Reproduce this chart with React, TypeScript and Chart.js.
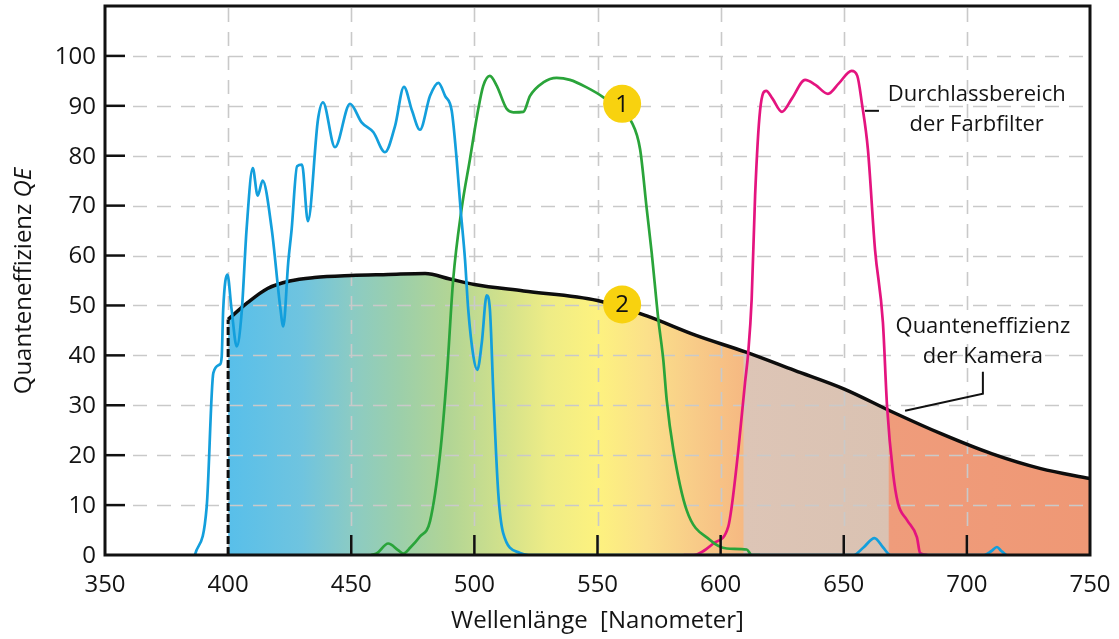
import { useEffect, useRef } from 'react';
import { Chart, registerables } from 'chart.js';

Chart.register(...registerables);

const FONT = '"Open Sans", "DejaVu Sans", sans-serif';
const TEXT = '#141414';

// Camera quantum efficiency (black curve, filled)
const qeX = [400, 408, 416, 425, 435, 450, 465, 480, 490, 500, 520, 550, 570, 590, 610, 630, 650, 670, 690, 710, 730, 750];
const qeY = [47.2, 50.6, 53.4, 54.9, 55.6, 56, 56.2, 56.4, 55.3, 54.2, 52.9, 51, 47.9, 44, 40.7, 37, 33.3, 28.6, 24.2, 20.3, 17.3, 15.3];

// Blue filter
const blueX = [386.5, 391.3, 394, 396.7, 397.4, 398, 399.7, 401.4, 403.5, 405.5, 407.5, 410, 412, 414, 417.7, 421.1, 422.4, 424.4, 425.8, 428, 430, 432.4, 436.5, 438.5, 443.4, 449.5, 454.2, 459, 463.7, 467.8, 471.4, 474.7, 477.9, 482, 485.4, 488.1, 490.8, 492.8, 494.4, 496.2, 497.5, 499.6, 501.2, 503, 505, 506.3, 507.7, 509.7, 511.7, 518.5, 522, 654, 658, 662.5, 666, 669, 707, 710, 712.2, 714, 716];
const blueY = [0, 9.7, 36.5, 38.2, 39.8, 49.2, 56.2, 49.2, 41.8, 48.6, 65.3, 77.5, 72, 75, 65.3, 49.9, 45.8, 58.6, 65.3, 77.9, 78.2, 66.9, 87.3, 90.7, 81.7, 90.4, 86.7, 84.7, 80.7, 86, 93.8, 89, 85.2, 92, 94.6, 92, 89, 79.3, 69.3, 59.2, 49.2, 39.8, 37.1, 42.5, 52, 49.2, 32.5, 12.4, 4.4, 0.4, 0, 0, 1.5, 3.4, 1.5, 0, 0, 0.8, 1.6, 0.8, 0];

// Green filter
const greenX = [458, 460.3, 465, 469, 471.1, 474, 477.9, 482, 486.1, 488.8, 491.4, 494.8, 498.2, 501.6, 503.6, 506.3, 509.1, 513.1, 515.8, 519.9, 522.6, 528, 533.4, 538.8, 545.6, 552.4, 563.9, 567.3, 570, 572, 574.7, 576.7, 578.1, 580.8, 586.2, 595.7, 602.5, 610.6, 612.6, 616];
const greenY = [0, 0.3, 2.3, 1.0, 0.3, 1.5, 3.7, 6.8, 20.4, 35.8, 55.2, 69.3, 79.3, 89.4, 94, 96, 94, 89.4, 88.7, 88.8, 92, 94.7, 95.6, 95.2, 93.7, 91.7, 86.7, 81.3, 69.3, 60.6, 47.2, 39.2, 31.1, 21.1, 9.0, 3.0, 1.3, 1.1, 0, 0];

// Magenta filter
const magentaX = [585, 588.9, 597, 603.1, 604.5, 607.2, 609.9, 611.2, 612.6, 614, 616, 618.5, 621, 624.9, 629, 634.3, 638.5, 643.6, 648, 653.2, 655.5, 657.4, 659.8, 662.7, 665.9, 667.6, 670, 672, 675.7, 679.7, 681, 684];
const magentaY = [0, 0, 2.3, 5.7, 9.7, 21.1, 34.5, 40.5, 51.2, 72, 89, 93, 91.5, 88.8, 91.5, 95.2, 94.2, 92.4, 94.5, 97, 96, 90.4, 81.3, 61.2, 46.6, 29.7, 16.5, 10.4, 7, 3.6, 0.4, 0];

// Numbered markers
const markerX = [560, 560];
const markerY = [90.4, 50.2];
const markerLabels = ['1', '2'];

// Fill colour stops along wavelength
const fillStopNm = [400, 430, 450, 470, 490, 510, 530, 550, 570, 590, 609, 609.6, 668, 668.6, 750];
const fillStopColor = ['#58bfea', '#6fc4df', '#8bcbc4', '#9ccfaa', '#b2d595', '#cfe08c', '#eeec86', '#fdf27f', '#fbe08a', '#f8cb88', '#f6b982', '#ddc5b6', '#dac2b2', '#ef9c7b', '#ef9875'];

const xTickValues = [350, 400, 450, 500, 550, 600, 650, 700, 750];
const yTickValues = [0, 10, 20, 30, 40, 50, 60, 70, 80, 90, 100];
const gridXValues = [400, 450, 500, 550, 600, 650, 700];
const gridYValues = [10, 20, 30, 40, 50, 60, 70, 80, 90, 100];
const innerTickX = [450, 500, 550, 600, 650, 700];
const innerTickY = [10, 20, 30, 40, 50, 60, 70, 80, 90, 100];

const xTitle = 'Wellenlänge  [Nanometer]';
const yTitleMain = 'Quanteneffizienz ';
const yTitleItalic = 'QE';

const filterNote = ['Durchlassbereich', 'der Farbfilter'];
const filterNotePos = { x: 704, y: [92.2, 86.3] };
const filterLeader = { x: [658.6, 664.3], y: [89, 89] };
const qeNote = ['Quanteneffizienz', 'der Kamera'];
const qeNotePos = { x: 706.5, y: [45.8, 39.8] };
const qeLeader = { x: [674.9, 706.5, 706.5], y: [28.9, 32.3, 36.7] };

const zip = (xs: number[], ys: number[]) => xs.map((x, i) => ({ x, y: ys[i] }));

export default function App() {
  const ref = useRef<HTMLCanvasElement | null>(null);

  useEffect(() => {
    if (!ref.current) return;

    const customPlugin = {
      id: 'custom',
      afterDatasetDraw(chart: any, args: any) {
        if (args.index !== 0) return;
        const { ctx, chartArea: a, scales } = chart;
        const xs = scales.x, ys = scales.y;
        ctx.save();
        ctx.strokeStyle = '#c9c9c9';
        ctx.lineWidth = 1.6;
        ctx.setLineDash([14, 10]);
        gridYValues.forEach((v) => {
          const py = Math.round(ys.getPixelForValue(v)) + 0.5;
          ctx.beginPath();
          ctx.moveTo(a.left + 28, py);
          ctx.lineTo(a.right, py);
          ctx.stroke();
        });
        gridXValues.forEach((v) => {
          const px = Math.round(xs.getPixelForValue(v)) + 0.5;
          ctx.beginPath();
          ctx.moveTo(px, a.top + 2);
          ctx.lineTo(px, a.bottom);
          ctx.stroke();
        });
        ctx.restore();
      },
      afterDatasetsDraw(chart: any) {
        const { ctx, chartArea: a, scales } = chart;
        const xs = scales.x, ys = scales.y;
        ctx.save();
        // frame
        ctx.strokeStyle = '#111';
        ctx.lineWidth = 3;
        ctx.setLineDash([]);
        ctx.strokeRect(a.left, a.top, a.right - a.left, a.bottom - a.top);
        // inner ticks
        ctx.lineWidth = 2.5;
        innerTickY.forEach((v) => {
          const py = ys.getPixelForValue(v);
          ctx.beginPath();
          ctx.moveTo(a.left, py);
          ctx.lineTo(a.left + 20, py);
          ctx.stroke();
        });
        innerTickX.forEach((v) => {
          const px = xs.getPixelForValue(v);
          ctx.beginPath();
          ctx.moveTo(px, a.bottom);
          ctx.lineTo(px, a.bottom - 20);
          ctx.stroke();
        });
        // y tick labels
        ctx.fillStyle = TEXT;
        ctx.font = `24px ${FONT}`;
        ctx.textAlign = 'right';
        ctx.textBaseline = 'middle';
        yTickValues.forEach((v) => ctx.fillText(String(v), a.left - 9, ys.getPixelForValue(v) + 1));
        // marker labels
        const meta = chart.getDatasetMeta(chart.data.datasets.length - 1);
        ctx.fillStyle = '#111';
        ctx.font = `24px ${FONT}`;
        ctx.textAlign = 'center';
        meta.data.forEach((pt: any, i: number) => {
          ctx.fillText(markerLabels[i], pt.x, pt.y + 1);
        });
        // annotations
        ctx.fillStyle = TEXT;
        ctx.font = `22px ${FONT}`;
        filterNote.forEach((t, i) => ctx.fillText(t, xs.getPixelForValue(filterNotePos.x), ys.getPixelForValue(filterNotePos.y[i])));
        qeNote.forEach((t, i) => ctx.fillText(t, xs.getPixelForValue(qeNotePos.x), ys.getPixelForValue(qeNotePos.y[i])));
        ctx.strokeStyle = '#111';
        ctx.lineWidth = 2;
        const leader = (l: { x: number[]; y: number[] }) => {
          ctx.beginPath();
          l.x.forEach((x, i) => {
            const px = xs.getPixelForValue(x), py = ys.getPixelForValue(l.y[i]);
            if (i === 0) ctx.moveTo(px, py); else ctx.lineTo(px, py);
          });
          ctx.stroke();
        };
        leader(filterLeader);
        leader(qeLeader);
        // axis titles
        ctx.font = `24px ${FONT}`;
        ctx.fillText(xTitle, (a.left + a.right) / 2, 621);
        ctx.translate(24, 281);
        ctx.rotate(-Math.PI / 2);
        ctx.font = `24px ${FONT}`;
        const w1 = ctx.measureText(yTitleMain).width;
        ctx.font = `italic 24px ${FONT}`;
        const w2 = ctx.measureText(yTitleItalic).width;
        const start = -(w1 + w2) / 2;
        ctx.textAlign = 'left';
        ctx.font = `24px ${FONT}`;
        ctx.fillText(yTitleMain, start, 0);
        ctx.font = `italic 24px ${FONT}`;
        ctx.fillText(yTitleItalic, start + w1, 0);
        ctx.restore();
      },
    };

    const fillGradient = (c: any) => {
      const chart = c.chart;
      const { chartArea, scales } = chart;
      if (!chartArea || !scales.x) return '#9cd';
      const x0 = scales.x.getPixelForValue(fillStopNm[0]);
      const x1 = scales.x.getPixelForValue(fillStopNm[fillStopNm.length - 1]);
      const g = chart.ctx.createLinearGradient(x0, 0, x1, 0);
      const span = fillStopNm[fillStopNm.length - 1] - fillStopNm[0];
      fillStopNm.forEach((nm, i) => g.addColorStop((nm - fillStopNm[0]) / span, fillStopColor[i]));
      return g;
    };

    const lineBase = { pointRadius: 0, fill: false, cubicInterpolationMode: 'monotone' as const };

    const chart = new Chart(ref.current, {
      type: 'line',
      data: {
        datasets: [
          { ...lineBase, label: 'fill', data: zip(qeX, qeY), borderWidth: 0, borderColor: 'rgba(0,0,0,0)', backgroundColor: fillGradient, fill: 'origin', order: 10 },
          { ...lineBase, label: 'QE', data: zip(qeX, qeY), borderColor: '#0d0d0d', borderWidth: 3.5, order: 6 },
          { ...lineBase, label: 'edge', data: zip([qeX[0], qeX[0]], [0, qeY[0]]), borderColor: '#0d0d0d', borderWidth: 3, borderDash: [8, 3], order: 5, cubicInterpolationMode: 'default', tension: 0 },
          { ...lineBase, label: 'blue', data: zip(blueX, blueY), borderColor: '#139fdc', borderWidth: 2.7, order: 3 },
          { ...lineBase, label: 'green', data: zip(greenX, greenY), borderColor: '#2aa43a', borderWidth: 2.7, order: 3 },
          { ...lineBase, label: 'magenta', data: zip(magentaX, magentaY), borderColor: '#e4147f', borderWidth: 2.7, order: 3 },
          { label: 'markers', type: 'scatter' as any, data: zip(markerX, markerY), pointRadius: 19, pointHoverRadius: 19, pointBackgroundColor: '#f8d20f', pointBorderWidth: 0, borderColor: 'rgba(0,0,0,0)', showLine: false, order: 0 } as any,
        ],
      },
      options: {
        animation: false,
        responsive: false,
        events: [],
        layout: { autoPadding: false, padding: { top: 6, right: 29, left: 0, bottom: 0 } },
        plugins: { legend: { display: false }, tooltip: { enabled: false } },
        scales: {
          x: {
            type: 'linear',
            min: 350,
            max: 750,
            afterBuildTicks: (s: any) => { s.ticks = xTickValues.map((v) => ({ value: v })); },
            afterFit: (s: any) => { s.height = 84; s.paddingLeft = 0; s.paddingRight = 0; },
            grid: { display: false, drawTicks: false },
            border: { display: false },
            ticks: { font: { family: FONT, size: 24 }, color: TEXT, padding: 16, maxRotation: 0 },
          },
          y: {
            type: 'linear',
            min: 0,
            max: 110,
            afterBuildTicks: (s: any) => { s.ticks = yTickValues.map((v) => ({ value: v })); },
            afterFit: (s: any) => { s.width = 105; s.paddingTop = 0; s.paddingBottom = 0; },
            grid: { display: false, drawTicks: false },
            border: { display: false },
            ticks: { display: false },
          },
        },
      },
      plugins: [customPlugin],
    });

    return () => chart.destroy();
  }, []);

  return (
    <div style={{ position: 'fixed', left: 0, top: 0, width: 1119, height: 639, background: '#fff' }}>
      <canvas ref={ref} width={1119} height={639} style={{ display: 'block' }} />
    </div>
  );
}
